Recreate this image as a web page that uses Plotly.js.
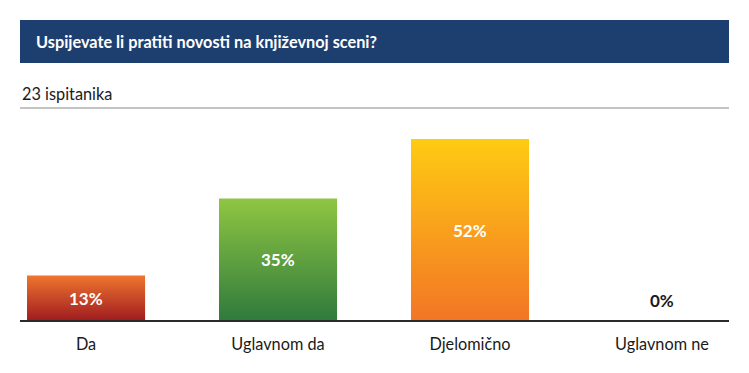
<!DOCTYPE html>
<html>
<head>
<meta charset="utf-8">
<script src="https://cdn.plot.ly/plotly-3.0.1.min.js"></script>
<style>html,body{margin:0;padding:0;background:#fff}#chart{width:749px;height:373px}</style>
</head>
<body>
<div id="chart"></div>
<script>
const categories = ["Da", "Uglavnom da", "Djelomično", "Uglavnom ne"];
const percents = [13, 35, 52, 0];
const gradTop = ["#f07530", "#8fc642", "#fecb12", "#fecb12"];
const gradBottom = ["#9e1b1f", "#2f7a3d", "#f37526", "#f37526"];
const chartTitle = "Uspijevate li pratiti novosti na književnoj sceni?";
const subtitle = "23 ispitanika";

const FONT = "Lato, 'Open Sans', sans-serif";

const annotations = percents.map((v, i) => ({
  x: categories[i], y: Math.max(v / 2, 6), xref: "x", yref: "y",
  text: v + "%", showarrow: false,
  font: {family: FONT, size: 17, color: v > 0 ? "#ffffff" : "#1a1a1a", weight: 700}
}));
annotations.push({
  xref: "paper", yref: "paper", x: 0, y: 1.31, xanchor: "left", yanchor: "middle",
  xshift: 14, text: chartTitle, showarrow: false,
  font: {family: FONT, size: 16.3, color: "#ffffff", weight: 700}
});
annotations.push({
  xref: "paper", yref: "paper", x: 0, y: 1.07, xanchor: "left", yanchor: "middle",
  text: subtitle, showarrow: false,
  font: {family: FONT, size: 16.3, color: "#1a1a1a"}
});

const data = [{
  type: "bar", x: categories, y: percents, width: 0.615,
  marker: {color: gradBottom, line: {width: 0}},
  hoverinfo: "skip"
}];

const layout = {
  width: 749, height: 373,
  margin: {l: 20, r: 20, t: 108, b: 52},
  paper_bgcolor: "#ffffff", plot_bgcolor: "#ffffff",
  showlegend: false,
  xaxis: {
    type: "category", range: [-0.344, 3.349],
    showgrid: false, zeroline: false, showline: false,
    ticks: "", tickfont: {family: FONT, size: 16.3, color: "#1a1a1a"},
    ticklabelstandoff: 12
  },
  yaxis: {
    range: [0, 60.86], showgrid: false, zeroline: false, showline: false,
    showticklabels: false, ticks: ""
  },
  shapes: [
    {type: "rect", xref: "paper", yref: "paper", x0: 0, x1: 1, y0: 1.211, y1: 1.413,
     fillcolor: "#1d3f70", line: {width: 0}, layer: "below"},
    {type: "line", xref: "paper", yref: "paper", x0: 0, x1: 1, y0: 1, y1: 1,
     line: {color: "#8a8a8a", width: 1}},
    {type: "line", xref: "paper", yref: "paper", x0: 0, x1: 1, y0: 0, y1: 0,
     line: {color: "#2a2a2a", width: 2}}
  ],
  annotations: annotations
};

Plotly.newPlot("chart", data, layout, {staticPlot: true, displayModeBar: false}).then(gd => {
  const svg = gd.querySelector("svg.main-svg");
  const ns = "http://www.w3.org/2000/svg";
  let defs = svg.querySelector("defs");
  if (!defs) { defs = document.createElementNS(ns, "defs"); svg.insertBefore(defs, svg.firstChild); }
  categories.forEach((c, i) => {
    const g = document.createElementNS(ns, "linearGradient");
    g.setAttribute("id", "barGrad" + i);
    g.setAttribute("x1", "0"); g.setAttribute("y1", "0");
    g.setAttribute("x2", "0"); g.setAttribute("y2", "1");
    const s1 = document.createElementNS(ns, "stop");
    s1.setAttribute("offset", "0"); s1.setAttribute("stop-color", gradTop[i]);
    const s2 = document.createElementNS(ns, "stop");
    s2.setAttribute("offset", "1"); s2.setAttribute("stop-color", gradBottom[i]);
    g.appendChild(s1); g.appendChild(s2);
    defs.appendChild(g);
  });
  gd.querySelectorAll(".bars .point path").forEach((p, i) => {
    p.style.fill = "url(#barGrad" + i + ")";
  });
});
</script>
</body>
</html>
